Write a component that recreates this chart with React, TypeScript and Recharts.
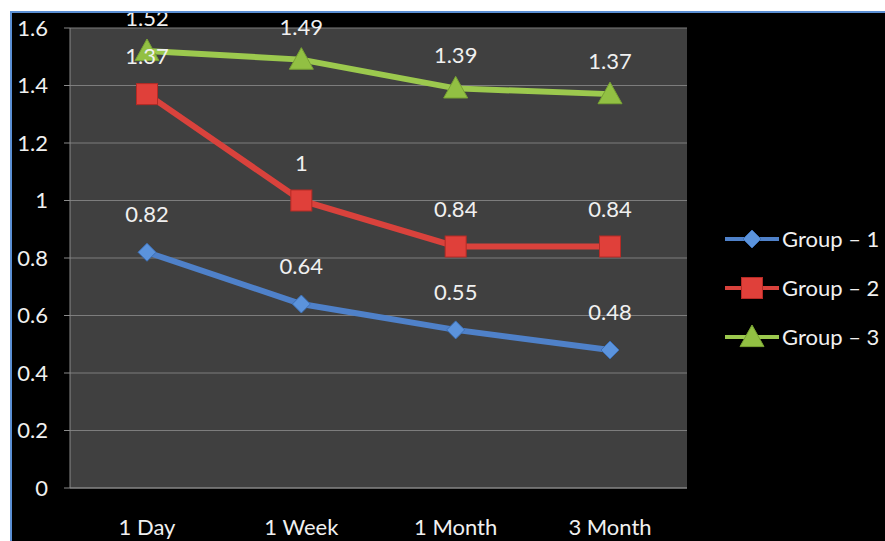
import { CartesianGrid, Line, LineChart, LabelList, XAxis, YAxis } from 'recharts'

const periods = ['1 Day', '1 Week', '1 Month', '3 Month']
const group1 = [0.82, 0.64, 0.55, 0.48]
const group2 = [1.37, 1, 0.84, 0.84]
const group3 = [1.52, 1.49, 1.39, 1.37]
const yTicks = [0, 0.2, 0.4, 0.6, 0.8, 1, 1.2, 1.4, 1.6]

const data = periods.map((period, i) => ({
  period,
  g1: group1[i],
  g2: group2[i],
  g3: group3[i],
}))

const FONT = 'Lato, "Open Sans", sans-serif'
const TEXT = '#f0f0f0'
const BLUE = '#4f81c9'
const RED = '#d9423c'
const GREEN = '#9cc94e'

const Diamond = (props: any) => {
  const { cx, cy } = props
  if (cx == null || cy == null) return null
  const r = 9
  return (
    <path
      d={`M${cx},${cy - r}L${cx + r},${cy}L${cx},${cy + r}L${cx - r},${cy}Z`}
      fill="#5b93dc"
      stroke="#3c6fb5"
      strokeWidth={1}
    />
  )
}

const Square = (props: any) => {
  const { cx, cy } = props
  if (cx == null || cy == null) return null
  const s = 21
  return <rect x={cx - s / 2} y={cy - s / 2} width={s} height={s} fill="#e0403a" stroke="#b52a25" strokeWidth={1} />
}

const Triangle = (props: any) => {
  const { cx, cy } = props
  if (cx == null || cy == null) return null
  const r = 12
  return (
    <path
      d={`M${cx},${cy - r}L${cx + r},${cy + r * 0.8}L${cx - r},${cy + r * 0.8}Z`}
      fill="#92c043"
      stroke="#78a332"
      strokeWidth={1}
    />
  )
}

const legendItems = [
  { label: 'Group – 1', color: BLUE, Marker: Diamond },
  { label: 'Group – 2', color: RED, Marker: Square },
  { label: 'Group – 3', color: GREEN, Marker: Triangle },
]

// legend drawn by hand next to the plot, Excel-style
function LegendBox() {
  return (
    <div style={{ position: 'absolute', left: 713, top: 201 }}>
      {legendItems.map(({ label, color, Marker }) => (
        <div key={label} style={{ display: 'flex', alignItems: 'center', height: 49 }}>
          <svg width={54} height={28}>
            <line x1={0} y1={14} x2={54} y2={14} stroke={color} strokeWidth={4} />
            <Marker cx={27} cy={14} />
          </svg>
          <span style={{ color: TEXT, fontSize: 22, fontFamily: FONT, marginLeft: 3 }}>{label}</span>
        </div>
      ))}
    </div>
  )
}

export default function App() {
  return (
    <div style={{ position: 'absolute', left: 0, top: 0, width: 885, height: 541, background: '#fff', overflow: 'hidden' }}>
      <div
        style={{
          position: 'absolute',
          left: 10,
          top: 11,
          width: 875,
          height: 530,
          borderLeft: '2px solid #5b8fd4',
          borderTop: '2px solid #5b8fd4',
          background: '#000',
          overflow: 'hidden',
        }}
      >
        <LineChart
          width={873}
          height={528}
          data={data}
          margin={{ top: 15, right: 198, bottom: 23, left: 0 }}
          style={{ fontFamily: FONT }}
        >
          <CartesianGrid vertical={false} stroke="#7d7d7d" fill="#404040" />
          <XAxis
            dataKey="period"
            stroke="#8a8a8a"
            tickLine={false}
            tickMargin={25}
            padding={{ left: 77, right: 77 }}
            tick={{ fill: TEXT, fontSize: 22 }}
          />
          <YAxis
            width={58}
            domain={[0, 1.6]}
            ticks={yTicks}
            stroke="#8a8a8a"
            tickSize={6}
            tickMargin={16}
            tick={{ fill: TEXT, fontSize: 22 }}
          />
          <Line dataKey="g1" stroke={BLUE} strokeWidth={6} dot={<Diamond />} isAnimationActive={false}>
            <LabelList dataKey="g1" position="top" offset={30} fill={TEXT} fontSize={22} />
          </Line>
          <Line dataKey="g2" stroke={RED} strokeWidth={6} dot={<Square />} isAnimationActive={false}>
            <LabelList dataKey="g2" position="top" offset={30} fill={TEXT} fontSize={22} />
          </Line>
          <Line dataKey="g3" stroke={GREEN} strokeWidth={6} dot={<Triangle />} isAnimationActive={false}>
            <LabelList dataKey="g3" position="top" offset={25} fill={TEXT} fontSize={22} />
          </Line>
        </LineChart>
        <LegendBox />
      </div>
    </div>
  )
}
